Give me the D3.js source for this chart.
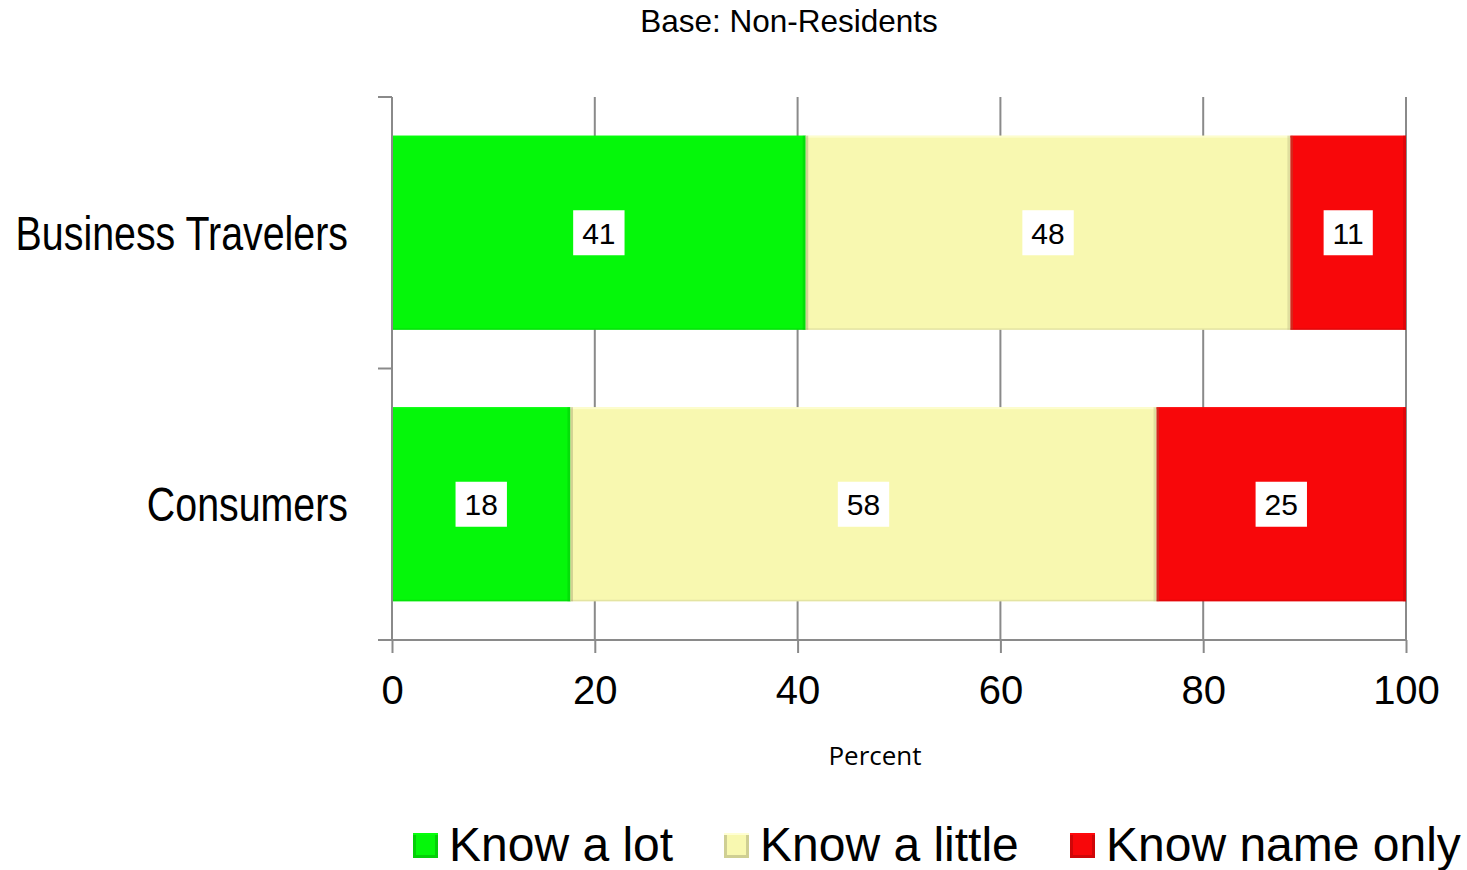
<!DOCTYPE html>
<html>
<head>
<meta charset="utf-8">
<script src="https://cdn.jsdelivr.net/npm/d3@7"></script>
<style>
  html, body { margin: 0; padding: 0; background: #fff; }
  svg { display: block; }
</style>
</head>
<body>
<svg id="chart" width="1467" height="870"></svg>
<script>
// Awareness among non-residents, percent of each group
const categories = ["Business Travelers", "Consumers"];
const seriesNames = ["Know a lot", "Know a little", "Know name only"];
const knowALot = [40.8, 17.6];
const knowALittle = [47.8, 57.8];
const knowNameOnly = [11.4, 24.6];
const xTicks = [0, 20, 40, 60, 80, 100];
const seriesColors = ["#05f70a", "#f8f8b0", "#f8070a"];

const seriesValues = [knowALot, knowALittle, knowNameOnly];
const rows = categories.map((c, i) => {
  const r = { category: c };
  seriesNames.forEach((s, j) => { r[s] = seriesValues[j][i]; });
  return r;
});
const stacked = d3.stack().keys(seriesNames)(rows);

const svg = d3.select("#chart");
const plot = { left: 392, right: 1406, top: 97, bottom: 640 };

const x = d3.scaleLinear().domain([0, 100]).range([plot.left, plot.right]);
const y = d3.scaleBand().domain(categories)
  .range([plot.top, plot.bottom])
  .paddingInner(0.285).paddingOuter(0.1425);
const color = d3.scaleOrdinal().domain(seriesNames).range(seriesColors);

const axisColor = "#8a8a8a";

// Title
svg.append("text")
  .attr("x", 789).attr("y", 32)
  .attr("text-anchor", "middle")
  .attr("font-family", "Liberation Sans, Arial, sans-serif")
  .attr("font-size", 31.5)
  .attr("fill", "#000")
  .text("Base: Non-Residents");

// Vertical gridlines
svg.append("g").selectAll("line")
  .data(xTicks.filter(d => d > 0))
  .join("line")
  .attr("x1", d => x(d)).attr("x2", d => x(d))
  .attr("y1", plot.top).attr("y2", plot.bottom)
  .attr("stroke", axisColor).attr("stroke-width", 2);

// Bars with a light bevel on each segment
const segG = svg.append("g");
stacked.forEach(layer => {
  const c = d3.color(color(layer.key));
  const dark = c.darker(0.7).formatHex();
  const light = c.brighter(0.6).formatHex();
  layer.forEach(d => {
    const x0 = x(d[0]), x1 = x(d[1]);
    const y0 = y(d.data.category), h = y.bandwidth();
    const g = segG.append("g");
    g.append("rect").attr("x", x0).attr("y", y0).attr("width", x1 - x0).attr("height", h)
      .attr("fill", c.formatHex());
    g.append("rect").attr("x", x0).attr("y", y0).attr("width", x1 - x0).attr("height", 2)
      .attr("fill", light).attr("opacity", 0.7);
    g.append("rect").attr("x", x0).attr("y", y0 + h - 1.5).attr("width", x1 - x0).attr("height", 1.5)
      .attr("fill", dark).attr("opacity", 0.35);
    g.append("rect").attr("x", x1 - 3).attr("y", y0).attr("width", 3).attr("height", h)
      .attr("fill", dark).attr("opacity", 0.45);
    if (d[0] > 0) {
      g.append("rect").attr("x", x0).attr("y", y0).attr("width", 2.5).attr("height", h)
        .attr("fill", "#7a7a50").attr("opacity", 0.3);
    }
  });
});

// Value labels in white boxes
const fmt = d3.format(".0f");
const labelG = svg.append("g");
stacked.forEach(layer => {
  layer.forEach(d => {
    const cx = (x(d[0]) + x(d[1])) / 2;
    const cy = y(d.data.category) + y.bandwidth() / 2;
    const g = labelG.append("g");
    const box = g.append("rect").attr("fill", "#fff");
    const t = g.append("text")
      .attr("x", cx).attr("y", cy + 11)
      .attr("text-anchor", "middle")
      .attr("font-family", "Liberation Sans, Arial, sans-serif")
      .attr("font-size", 30)
      .attr("fill", "#000")
      .text(fmt(d[1] - d[0]));
    const w = t.node().getComputedTextLength() + 18;
    box.attr("x", cx - w / 2).attr("y", cy - 22.5).attr("width", w).attr("height", 45);
  });
});

// Y axis line with category boundary ticks
const boundaries = [plot.top, (plot.top + plot.bottom) / 2, plot.bottom];
svg.append("line")
  .attr("x1", plot.left).attr("x2", plot.left)
  .attr("y1", plot.top).attr("y2", plot.bottom)
  .attr("stroke", axisColor).attr("stroke-width", 2);
svg.append("g").selectAll("line")
  .data(boundaries)
  .join("line")
  .attr("x1", plot.left - 14).attr("x2", plot.left)
  .attr("y1", d => d).attr("y2", d => d)
  .attr("stroke", axisColor).attr("stroke-width", 2);

// Category labels, condensed horizontally around their right edge
const labelRight = 348;
svg.append("g").selectAll("text")
  .data(categories)
  .join("text")
  .attr("transform", d => `translate(${labelRight},${y(d) + y.bandwidth() / 2 + 17}) scale(0.82,1)`)
  .attr("text-anchor", "end")
  .attr("font-family", "Liberation Sans, Arial, sans-serif")
  .attr("font-size", 48)
  .attr("fill", "#000")
  .text(d => d);

// X axis
const xAxis = d3.axisBottom(x).tickValues(xTicks).tickSizeInner(13).tickSizeOuter(0).tickFormat(d3.format("d"));
const xg = svg.append("g").attr("transform", `translate(0,${plot.bottom})`).call(xAxis);
xg.select(".domain").remove();
xg.selectAll(".tick line").attr("stroke", axisColor).attr("stroke-width", 2);
xg.selectAll(".tick text")
  .attr("y", 64).attr("dy", 0)
  .attr("font-family", "Liberation Sans, Arial, sans-serif")
  .attr("font-size", 40)
  .attr("fill", "#000");
svg.append("line")
  .attr("x1", plot.left - 14).attr("x2", plot.right)
  .attr("y1", plot.bottom).attr("y2", plot.bottom)
  .attr("stroke", axisColor).attr("stroke-width", 2);

// X axis title
svg.append("text")
  .attr("x", 875).attr("y", 765)
  .attr("text-anchor", "middle")
  .attr("font-family", "Open Sans, Noto Sans, sans-serif")
  .attr("font-size", 26)
  .attr("fill", "#000")
  .text("Percent");

// Legend
const legendX = [413, 724, 1070];
const lg = svg.append("g").selectAll("g")
  .data(seriesNames)
  .join("g")
  .attr("transform", (d, i) => `translate(${legendX[i]},833)`);
lg.append("rect").attr("width", 25).attr("height", 25)
  .attr("fill", d => d3.color(color(d)).darker(0.5).formatHex());
lg.append("rect").attr("x", 3).attr("y", 2).attr("width", 19).attr("height", 20)
  .attr("fill", d => color(d));
lg.append("rect").attr("x", 0).attr("y", 0).attr("width", 25).attr("height", 2)
  .attr("fill", d => d3.color(color(d)).brighter(0.5).formatHex());
lg.append("text")
  .attr("x", 36).attr("y", 28)
  .attr("font-family", "Liberation Sans, Arial, sans-serif")
  .attr("font-size", 48)
  .attr("fill", "#000")
  .text(d => d);
</script>
</body>
</html>
